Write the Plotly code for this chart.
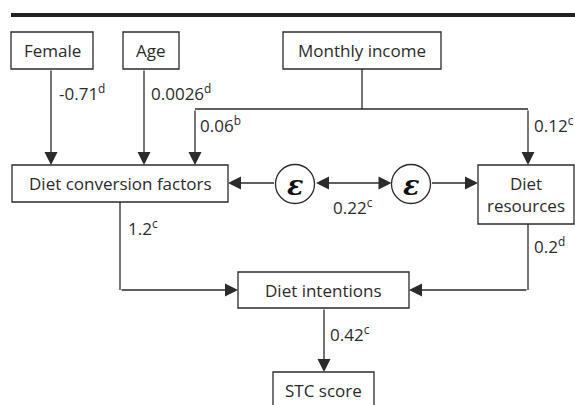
import plotly.graph_objects as go

# ---- data ----
node_names = ["Female", "Age", "Monthly income", "Diet conversion factors",
              "Diet resources", "Diet intentions", "STC score"]
path_labels = ["Female→DCF", "Age→DCF", "Income→DCF", "Income→DR",
               "DCF→DI", "ε↔ε", "DR→DI", "DI→STC"]
coef_values = ["-0.71", "0.0026", "0.06", "0.12", "1.2", "0.22", "0.2", "0.42"]
coef_sig = ["d", "d", "b", "c", "c", "c", "d", "c"]

# ---- layout geometry (pixels) ----
W, H = 575, 405
boxes = {
    "Female": (11, 32, 93, 69),
    "Age": (123, 32, 179, 69),
    "Monthly income": (283, 32, 441, 69),
    "Diet conversion factors": (12, 165, 228, 202),
    "Diet resources": (478, 165, 574, 224),
    "Diet intentions": (238, 272, 409, 308),
    "STC score": (273, 372, 374, 409),
}
box_text = {
    "Diet resources": "Diet<br>resources",
}
label_pos = [(57, 92), (149, 92), (198, 124), (532, 124),
             (126, 227), (331, 206), (532, 245), (328, 333)]

INK = "#2b2b2b"
FONT = "Open Sans"
FS = 17
LW = 1.3

fig = go.Figure()
fig.add_trace(go.Scatter(x=[0, W], y=[0, H], mode="markers",
                         marker=dict(opacity=0), hoverinfo="skip", showlegend=False))

shapes = []
annotations = []

# thick rule at top
shapes.append(dict(type="line", x0=11, x1=W, y0=15, y1=15,
                   line=dict(color="#222", width=4)))

for name in node_names:
    x0, y0, x1, y1 = boxes[name]
    shapes.append(dict(type="rect", x0=x0, x1=x1, y0=y0, y1=y1,
                       line=dict(color=INK, width=LW), fillcolor="white"))
    cy = (y0 + y1) / 2
    if name == "STC score":
        cy = 390
    annotations.append(dict(x=(x0 + x1) / 2, y=cy, text=box_text.get(name, name),
                            showarrow=False, xref="x", yref="y",
                            font=dict(family=FONT, size=FS, color=INK)))

def seg(x0, y0, x1, y1):
    shapes.append(dict(type="line", x0=x0, y0=y0, x1=x1, y1=y1,
                       line=dict(color=INK, width=LW)))

def arrow(tx, ty, hx, hy, both=False):
    annotations.append(dict(x=hx, y=hy, ax=tx, ay=ty, xref="x", yref="y",
                            axref="x", ayref="y", text="", showarrow=True,
                            arrowhead=2, arrowsize=2, arrowwidth=LW,
                            arrowcolor=INK,
                            arrowside="end+start" if both else "end",
                            startarrowhead=2, startarrowsize=2))

# Female -> DCF
arrow(51, 69, 51, 165)
# Age -> DCF
arrow(144, 69, 144, 165)
# Monthly income branches
seg(362, 69, 362, 109)
seg(195, 109, 528, 109)
arrow(195, 109, 195, 165)
arrow(528, 109, 528, 165)
# DCF -> Diet intentions
seg(120, 202, 120, 290)
arrow(120, 290, 238, 290)
# Diet resources -> Diet intentions
seg(528, 224, 528, 290)
arrow(528, 290, 409, 290)
# Diet intentions -> STC
arrow(324, 308, 324, 372)

# error terms
eps = [(295, 184), (411, 184)]
R = 19.5
for cx, cy in eps:
    shapes.append(dict(type="circle", x0=cx - R, x1=cx + R, y0=cy - R, y1=cy + R,
                       line=dict(color=INK, width=LW), fillcolor="white"))
    annotations.append(dict(x=cx, y=cy + 1, text="<b><i>ε</i></b>", showarrow=False,
                            xref="x", yref="y",
                            font=dict(family="DejaVu Serif", size=27, color="#111")))
arrow(eps[0][0] - R, 183, 228, 183)
arrow(eps[0][0] + R, 183, eps[1][0] - R, 183, both=True)
arrow(eps[1][0] + R, 183, 478, 183)

# coefficient labels
for (lx, ly), v, s in zip(label_pos, coef_values, coef_sig):
    annotations.append(dict(x=lx, y=ly, text=f"{v}<sup>{s}</sup>", showarrow=False,
                            xref="x", yref="y", xanchor="left",
                            font=dict(family=FONT, size=FS, color=INK)))

fig.update_layout(
    width=W, height=H, margin=dict(l=0, r=0, t=0, b=0),
    paper_bgcolor="white", plot_bgcolor="white",
    xaxis=dict(range=[0, W], visible=False, fixedrange=True),
    yaxis=dict(range=[H, 0], visible=False, fixedrange=True),
    shapes=shapes, annotations=annotations, showlegend=False,
)
fig.write_html("out.html", config={"displayModeBar": False},
               post_script="document.body.style.margin='0';document.body.style.overflow='hidden';")
